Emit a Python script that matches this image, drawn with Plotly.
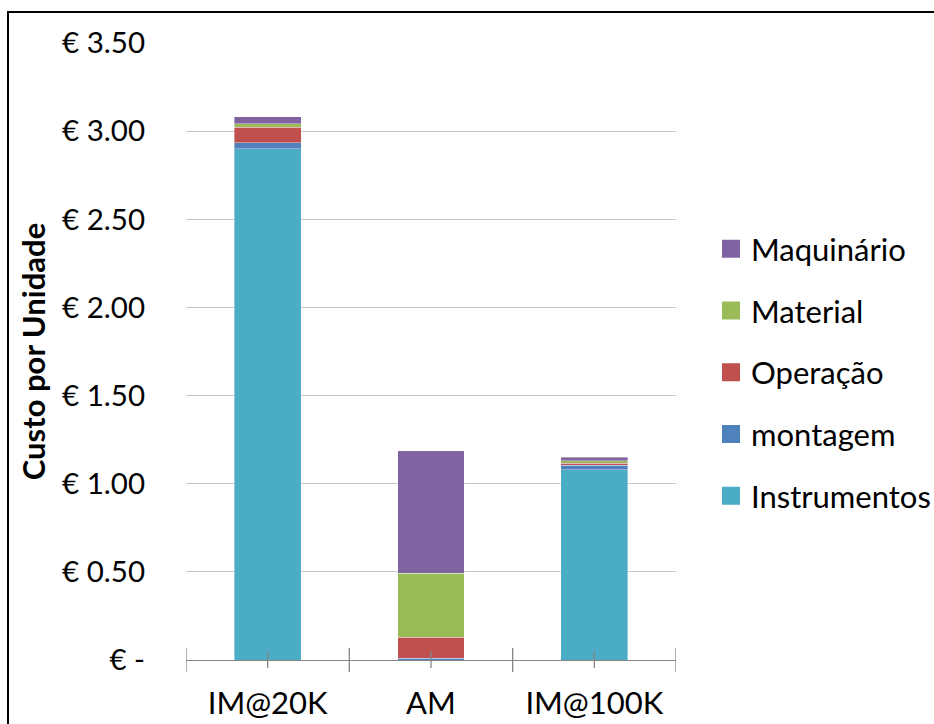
import plotly.graph_objects as go

# Cost breakdown per unit (EUR) for each production scenario
categories = ["IM@20K", "AM", "IM@100K"]

instrumentos = [2.90, 0.00, 1.078]
montagem = [0.034, 0.010, 0.028]
operacao = [0.089, 0.119, 0.010]
material = [0.019, 0.363, 0.015]
maquinario = [0.041, 0.695, 0.019]

series = [
    ("Instrumentos", instrumentos, "#4BACC6"),
    ("montagem", montagem, "#4F81BD"),
    ("Operação", operacao, "#C0504D"),
    ("Material", material, "#9BBB59"),
    ("Maquinário", maquinario, "#8064A2"),
]

y_ticks = [0, 0.5, 1.0, 1.5, 2.0, 2.5, 3.0, 3.5]
y_ticktext = ["€ -", "€ 0.50", "€ 1.00", "€ 1.50", "€ 2.00", "€ 2.50", "€ 3.00", "€ 3.50"]

FONT = "Lato, 'Open Sans', sans-serif"
PLOT_W = 490  # plot-area width in px
PLOT_H = 617  # plot-area height in px
LEFT, TOP = 186, 43

fig = go.Figure()
xpos = list(range(len(categories)))
for name, vals, color in series:
    fig.add_trace(go.Bar(
        x=xpos, y=vals, name=name, showlegend=False,
        marker=dict(color=color, line=dict(width=0.6, color="rgba(255,255,255,0.6)")),
        width=0.41,
    ))

# legend keys: large square swatches, top entry first
for name, vals, color in reversed(series):
    fig.add_trace(go.Scatter(
        x=[None], y=[None], mode="markers", name=name, legendgroup=name,
        marker=dict(symbol="square", size=16, color=color, line=dict(width=2, color=color)),
    ))

# axis tick marks crossing the axis line: long ones at category boundaries, short at centers
shapes = []
for b in [i - 0.5 for i in range(len(categories) + 1)]:
    shapes.append(dict(type="line", xref="x", yref="paper",
                       x0=b, x1=b, y0=-12 / PLOT_H, y1=12 / PLOT_H,
                       line=dict(color="#868686", width=1.3)))
for c in xpos:
    shapes.append(dict(type="line", xref="x", yref="paper",
                       x0=c, x1=c, y0=-8 / PLOT_H, y1=9 / PLOT_H,
                       line=dict(color="#868686", width=1.3)))
# outer chart frame
shapes.append(dict(type="rect", xref="paper", yref="paper",
                   x0=(8 - LEFT) / PLOT_W, x1=(960 - LEFT) / PLOT_W,
                   y0=-0.3, y1=(TOP + PLOT_H - 12) / PLOT_H,
                   line=dict(color="black", width=2), layer="below"))

fig.update_layout(
    width=934, height=724,
    margin=dict(l=LEFT, r=934 - LEFT - PLOT_W, t=TOP, b=724 - TOP - PLOT_H, autoexpand=False),
    paper_bgcolor="white", plot_bgcolor="white",
    barmode="stack",
    font=dict(family=FONT, color="black", size=29),
    shapes=shapes,
    showlegend=True,
    legend=dict(
        x=(711 - LEFT) / PLOT_W, xanchor="left", y=(TOP + PLOT_H - 222) / PLOT_H, yanchor="top",
        traceorder="grouped", tracegroupgap=18.5,
        font=dict(size=31, family=FONT), bgcolor="rgba(0,0,0,0)",
    ),
    xaxis=dict(
        range=[-0.5, 2.5], tickvals=xpos, ticktext=categories, automargin=False,
        showgrid=False, zeroline=False, showline=True, linecolor="#868686", linewidth=1.3,
        ticks="", ticklabelstandoff=16, tickfont=dict(size=31),
    ),
    yaxis=dict(
        range=[0, 3.5], tickvals=y_ticks, ticktext=y_ticktext, automargin=False,
        showgrid=True, gridcolor="#c6c6c6", gridwidth=1.3, zeroline=False, showline=False,
        ticks="", ticklabelstandoff=40, tickfont=dict(size=29.5),
        title=dict(text="<b>Custo por Unidade</b>", font=dict(size=31), standoff=7),
    ),
)

fig.write_html("out.html")
